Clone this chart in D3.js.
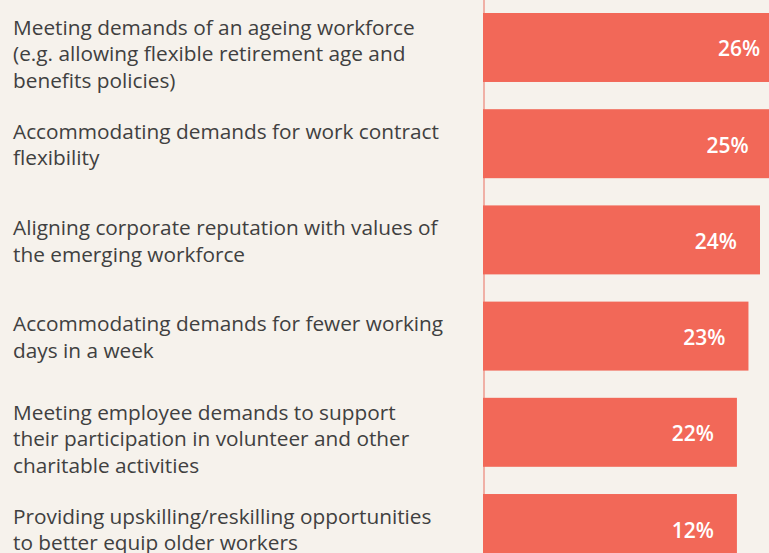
<!DOCTYPE html>
<html>
<head>
<meta charset="utf-8">
<title>Workforce demands</title>
<script src="https://d3js.org/d3.v7.min.js"></script>
<style>
    body { margin: 0; background: #f6f2ec; overflow: hidden; }
    .label { font-family: "Open Sans", sans-serif; font-size: 20.8px; fill: #404040; }
    .value { font-family: "Open Sans", sans-serif; font-size: 21px; font-weight: 600; fill: #fff; }
</style>
</head>
<body>
<script>
// category labels, already broken into lines as in the original
var categories = [
    ["Meeting demands of an ageing workforce", "(e.g. allowing flexible retirement age and", "benefits policies)"],
    ["Accommodating demands for work contract", "flexibility"],
    ["Aligning corporate reputation with values of", "the emerging workforce"],
    ["Accommodating demands for fewer working", "days in a week"],
    ["Meeting employee demands to support", "their participation in volunteer and other", "charitable activities"],
    ["Providing upskilling/reskilling opportunities", "to better equip older workers"]
];
// bar lengths as drawn in the picture (the last bar is drawn as long as the 22% one)
var values = [26, 25, 24, 23, 22, 22];
// printed value labels
var valueLabels = ["26%", "25%", "24%", "23%", "22%", "12%"];

var width = 769, height = 553;

var svg = d3.select("body").append("svg")
    .attr("width", width)
    .attr("height", height);

var x = d3.scaleLinear()
    .domain([0, 24])
    .range([483, 760]);

var y = d3.scaleBand()
    .domain(d3.range(categories.length))
    .range([13, 13 + 96.2 * (categories.length - 1) + 69])
    .paddingInner(0.283)
    .paddingOuter(0);

// axis line
svg.append("line")
    .attr("x1", 484).attr("x2", 484)
    .attr("y1", 0).attr("y2", height)
    .attr("stroke", "#ee9a8f")
    .attr("stroke-width", 1.5);

svg.selectAll(".bar")
    .data(values)
    .enter()
    .append("rect")
    .attr("class", "bar")
    .attr("x", x(0))
    .attr("y", function(d, i) { return y(i); })
    .attr("width", function(d) { return x(d) - x(0); })
    .attr("height", y.bandwidth())
    .attr("fill", "#f26858");

svg.selectAll(".value")
    .data(values)
    .enter()
    .append("text")
    .attr("class", "value")
    .attr("text-anchor", "end")
    .attr("x", function(d) { return x(d) - 23; })
    .attr("y", function(d, i) { return y(i) + y.bandwidth() / 2 + 9; })
    .text(function(d, i) { return valueLabels[i]; });

var lineH = 26.5;
var groups = svg.selectAll(".label")
    .data(categories)
    .enter()
    .append("text")
    .attr("class", "label");

groups.selectAll("tspan")
    .data(function(d, i) {
        return d.map(function(t, j) { return {t: t, j: j, n: d.length, i: i}; });
    })
    .enter()
    .append("tspan")
    .attr("x", 13)
    .attr("y", function(d) {
        var c = y(d.i) + y.bandwidth() / 2;
        var shift = d.n == 3 ? 14 : 8.5;
        return c + (d.j - (d.n - 1) / 2) * lineH + shift;
    })
    .text(function(d) { return d.t; });
</script>
</body>
</html>
